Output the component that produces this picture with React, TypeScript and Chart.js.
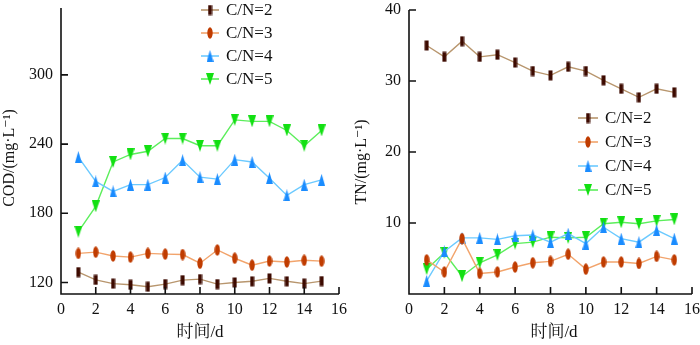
import React, { useEffect, useRef } from "react";
import { Chart, registerables } from "chart.js";
Chart.register(...registerables);

const days = [1, 2, 3, 4, 5, 6, 7, 8, 9, 10, 11, 12, 13, 14, 15];
const seriesNames = ["C/N=2", "C/N=3", "C/N=4", "C/N=5"];

const codCN2 = [129, 122.3, 119, 118, 116.3, 118.6, 122, 122.9, 118.6, 120, 121, 123.5, 121, 119, 121.2];
const codCN3 = [145.2, 146.3, 143, 142, 145.2, 144.6, 144.2, 136.7, 148.2, 141, 135, 138.6, 137.8, 139.2, 138.5];
const codCN4 = [228.7, 207.6, 199, 204.8, 204.8, 211, 226, 211.3, 209.6, 226.5, 224.5, 210.4, 195.5, 204.8, 209];
const codCN5 = [164, 186, 224.5, 231, 233.8, 244.8, 244.8, 238.6, 238.6, 261, 259.7, 259.7, 251.8, 238.6, 251.8];

const tnCN2 = [35.0, 33.4, 35.6, 33.4, 33.7, 32.6, 31.4, 30.8, 32.0, 31.4, 30.1, 28.9, 27.7, 28.9, 28.4];
const tnCN3 = [4.8, 3.1, 7.8, 2.9, 3.1, 3.8, 4.4, 4.6, 5.6, 3.5, 4.5, 4.5, 4.3, 5.3, 4.8];
const tnCN4 = [1.85, 6.0, 7.9, 7.9, 7.7, 8.2, 8.3, 7.3, 8.5, 7.1, 9.4, 7.8, 7.3, 9.0, 7.8];
const tnCN5 = [3.5, 5.8, 2.5, 4.4, 5.5, 7.1, 7.3, 8.0, 7.9, 8.0, 9.9, 10.1, 9.9, 10.3, 10.5];

const codTicks = [120, 180, 240, 300];
const tnTicks = [0, 10, 20, 30, 40];
const xTicks = [0, 2, 4, 6, 8, 10, 12, 14, 16];

const FONT = "'Liberation Serif', 'Times New Roman', 'DejaVu Serif', serif";
const FONT_CJK = "'Liberation Serif', 'Times New Roman', 'Noto Serif CJK SC', 'Noto Sans CJK SC', serif";

const lineColors = ["#b8966e", "#f2a46c", "#6ccaff", "#5cee5c"];
const markerColors = ["#3d0a00", "#c03c00", "#1a8cff", "#12e012"];
const markerKinds = ["rect", "ellipse", "up", "down"];

function makeMarker(kind: string, color: string): HTMLCanvasElement {
  const c = document.createElement("canvas");
  let w = 6, h = 12;
  if (kind === "rect") { w = 5; h = 11; }
  if (kind === "ellipse") { w = 6; h = 12; }
  if (kind === "up") { w = 7; h = 12; }
  if (kind === "down") { w = 8; h = 12; }
  c.width = w; c.height = h;
  const ctx = c.getContext("2d")!;
  ctx.fillStyle = color;
  ctx.beginPath();
  if (kind === "rect") {
    ctx.rect(0.5, 0.5, w - 1, h - 1);
  } else if (kind === "ellipse") {
    ctx.ellipse(w / 2, h / 2, w / 2 - 0.3, h / 2 - 0.3, 0, 0, Math.PI * 2);
  } else if (kind === "up") {
    ctx.moveTo(w / 2, 0); ctx.lineTo(w, h); ctx.lineTo(0, h); ctx.closePath();
  } else {
    ctx.moveTo(0, 0); ctx.lineTo(w, 0); ctx.lineTo(w / 2, h); ctx.closePath();
  }
  ctx.fill();
  return c;
}

function buildDatasets(values: number[][], markers: HTMLCanvasElement[]) {
  return values.map((vals, i) => ({
    label: seriesNames[i],
    data: days.map((d, j) => ({ x: d, y: vals[j] })),
    borderColor: lineColors[i],
    backgroundColor: markerColors[i],
    borderWidth: 1.4,
    pointStyle: markers[i],
    pointRadius: 5,
    tension: 0,
  }));
}

function axesPlugin() {
  return {
    id: "insideAxes",
    afterDraw(chart: any) {
      const { ctx, chartArea } = chart;
      const { left, right, top, bottom } = chartArea;
      const xs = chart.scales.x;
      const ys = chart.scales.y;
      ctx.save();
      ctx.strokeStyle = "#111";
      ctx.lineWidth = 1.6;
      ctx.beginPath();
      ctx.moveTo(left, top);
      ctx.lineTo(left, bottom);
      ctx.lineTo(right, bottom);
      xs.ticks.forEach((t: any) => {
        const px = xs.getPixelForValue(t.value);
        ctx.moveTo(px, bottom);
        ctx.lineTo(px, bottom - 7);
      });
      ys.ticks.forEach((t: any) => {
        const py = ys.getPixelForValue(t.value);
        ctx.moveTo(left, py);
        ctx.lineTo(left + 7, py);
      });
      ctx.stroke();
      ctx.restore();
    },
  };
}

function titlesPlugin(yTitle: string, yx: number, yy: number, xx: number, xy: number) {
  return {
    id: "titles",
    afterDraw(chart: any) {
      const ctx = chart.ctx;
      ctx.save();
      ctx.fillStyle = "#111";
      ctx.textAlign = "center";
      ctx.textBaseline = "middle";
      ctx.font = `17px ${FONT_CJK}`;
      ctx.fillText("时间/d", xx, xy);
      ctx.translate(yx, yy);
      ctx.rotate(-Math.PI / 2);
      ctx.font = `16px ${FONT}`;
      ctx.fillText(yTitle, 0, 0);
      ctx.restore();
    },
  };
}

function legendPlugin(x0: number, ys: number[], lineLen: number, markers: HTMLCanvasElement[]) {
  return {
    id: "customLegend",
    afterDraw(chart: any) {
      const ctx = chart.ctx;
      ctx.save();
      chart.data.datasets.forEach((ds: any, i: number) => {
        const y = ys[i];
        ctx.strokeStyle = ds.borderColor;
        ctx.lineWidth = 1.6;
        ctx.beginPath();
        ctx.moveTo(x0, y);
        ctx.lineTo(x0 + lineLen, y);
        ctx.stroke();
        const m = markers[i];
        ctx.drawImage(m, x0 + lineLen / 2 - m.width / 2, y - m.height / 2);
        ctx.fillStyle = "#111";
        ctx.font = `17px ${FONT}`;
        ctx.textBaseline = "middle";
        ctx.textAlign = "left";
        ctx.fillText(ds.label, x0 + lineLen + 7, y + 1);
      });
      ctx.restore();
    },
  };
}

type Cfg = {
  values: number[][];
  yMin: number;
  yMax: number;
  yTicks: number[];
  yTitle: string;
  yWidth: number;
  pad: { top: number; right: number };
  legendX: number;
  legendYs: number[];
  legendLen: number;
  hideZero: boolean;
  titlePos: number[];
};

function ChartPanel({ cfg }: { cfg: Cfg }) {
  const ref = useRef<HTMLCanvasElement | null>(null);
  useEffect(() => {
    const markers = markerKinds.map((k, i) => makeMarker(k, markerColors[i]));
    const [yx, yy, xx, xy] = cfg.titlePos;
    const chart = new Chart(ref.current!, {
      type: "line",
      data: { datasets: buildDatasets(cfg.values, markers) as any },
      options: {
        animation: false,
        responsive: false,
        devicePixelRatio: 1,
        layout: { padding: { top: cfg.pad.top, right: cfg.pad.right, left: 0, bottom: 0 } },
        plugins: { legend: { display: false }, tooltip: { enabled: false } },
        scales: {
          x: {
            type: "linear",
            min: 0,
            max: 16,
            afterBuildTicks: (s: any) => { s.ticks = xTicks.map((v) => ({ value: v })); },
            afterFit: (s: any) => {
              s.height = 51;
              s.paddingLeft = 0; s.paddingRight = 0; s.paddingTop = 0; s.paddingBottom = 0;
            },
            grid: { display: false, drawTicks: false },
            border: { display: false },
            ticks: { padding: 8, color: "#111", font: { family: FONT, size: 16, lineHeight: 1 }, maxRotation: 0, autoSkip: false },
          },
          y: {
            type: "linear",
            min: cfg.yMin,
            max: cfg.yMax,
            afterBuildTicks: (s: any) => { s.ticks = cfg.yTicks.map((v) => ({ value: v })); },
            afterFit: (s: any) => {
              s.width = cfg.yWidth;
              s.paddingLeft = 0; s.paddingRight = 0; s.paddingTop = 0; s.paddingBottom = 0;
            },
            grid: { display: false, drawTicks: false },
            border: { display: false },
            ticks: {
              padding: 8,
              color: "#111",
              font: { family: FONT, size: 16, lineHeight: 1 },
              callback: (v: any) => (cfg.hideZero && v === 0 ? "" : String(v)),
            },
          },
        },
      },
      plugins: [
        axesPlugin(),
        titlesPlugin(cfg.yTitle, yx, yy, xx, xy),
        legendPlugin(cfg.legendX, cfg.legendYs, cfg.legendLen, markers),
      ],
    });
    return () => chart.destroy();
  }, []);
  return <canvas ref={ref} width={350} height={345} style={{ display: "block", width: 350, height: 345 }} />;
}

const leftCfg: Cfg = {
  values: [codCN2, codCN3, codCN4, codCN5],
  yMin: 110,
  yMax: 358,
  yTicks: codTicks,
  yTitle: "COD/(mg·L⁻¹)",
  yWidth: 61,
  pad: { top: 8, right: 11 },
  legendX: 201,
  legendYs: [10, 33, 56, 79],
  legendLen: 18,
  hideZero: false,
  titlePos: [10, 158, 200, 333],
};

const rightCfg: Cfg = {
  values: [tnCN2, tnCN3, tnCN4, tnCN5],
  yMin: 0,
  yMax: 40,
  yTicks: tnTicks,
  yTitle: "TN/(mg·L⁻¹)",
  yWidth: 59,
  pad: { top: 10, right: 8 },
  legendX: 228,
  legendYs: [118, 142, 166, 190],
  legendLen: 20,
  hideZero: true,
  titlePos: [12, 162, 204, 333],
};

export default function App() {
  return (
    <div style={{ position: "absolute", left: 0, top: 0, width: 700, height: 345, background: "#fff" }}>
      <div style={{ position: "absolute", left: 0, top: 0 }}>
        <ChartPanel cfg={leftCfg} />
      </div>
      <div style={{ position: "absolute", left: 350, top: 0 }}>
        <ChartPanel cfg={rightCfg} />
      </div>
    </div>
  );
}
